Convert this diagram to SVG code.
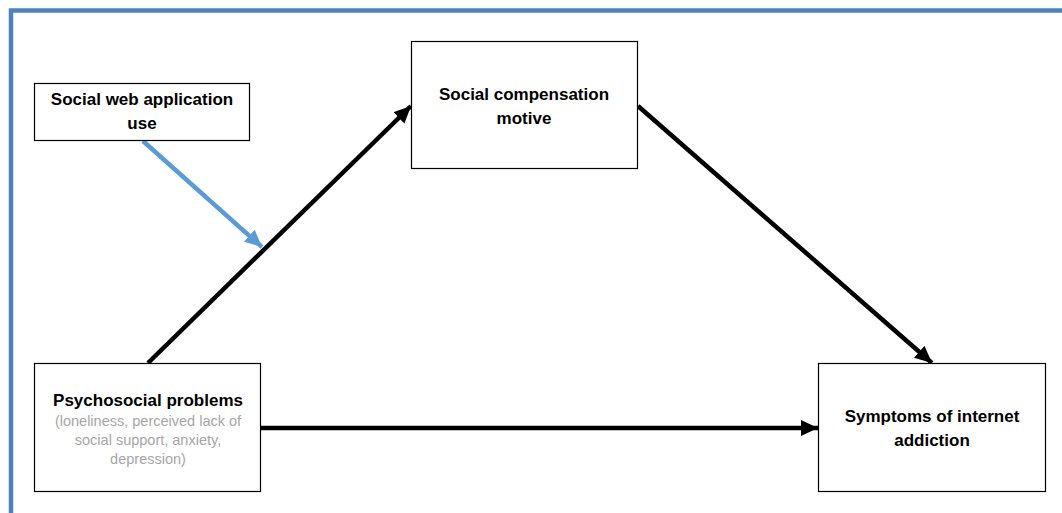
<svg xmlns="http://www.w3.org/2000/svg" width="1062" height="513" viewBox="0 0 1062 513">
  <style>
    .box { fill: #ffffff; stroke: #000000; stroke-width: 1.2; }
    .title { font-family: "Liberation Sans", Arial, sans-serif; font-weight: bold; font-size: 17px; fill: #000000; text-anchor: middle; }
    .sub { font-family: "Liberation Sans", Arial, sans-serif; font-size: 14.5px; fill: #a6a6a6; text-anchor: middle; }
    .link { fill: none; stroke: #000000; stroke-width: 4.5; }
    .mod { fill: none; stroke: #5b9bd5; stroke-width: 4.5; }
  </style>
  <defs>
    <marker id="headBlack" markerUnits="userSpaceOnUse" markerWidth="18" markerHeight="16" refX="17" refY="8" orient="auto">
      <path d="M0,0 L17,8 L0,16 Z" fill="#000000"/>
    </marker>
    <marker id="headBlue" markerUnits="userSpaceOnUse" markerWidth="18" markerHeight="16" refX="17" refY="8" orient="auto">
      <path d="M0,0 L17,8 L0,16 Z" fill="#5b9bd5"/>
    </marker>
  </defs>

  <rect width="1062" height="513" fill="#ffffff"/>
  <!-- outer frame -->
  <rect x="11" y="10.5" width="1060" height="510" fill="none" stroke="#4f81bd" stroke-width="4.5"/>

  <g id="connectors">
    <line class="link" x1="148" y1="363" x2="411" y2="106" marker-end="url(#headBlack)"/>
    <line class="link" x1="638" y1="106" x2="932" y2="363" marker-end="url(#headBlack)"/>
    <line class="link" x1="261" y1="428" x2="818" y2="428" marker-end="url(#headBlack)"/>
    <line class="mod" x1="143" y1="141" x2="262" y2="247" marker-end="url(#headBlue)"/>
  </g>

  <g id="node-social-web">
    <rect class="box" x="34.5" y="83.5" width="215" height="57"/>
    <text class="title" x="142" y="105">Social web application</text>
    <text class="title" x="142" y="129">use</text>
  </g>

  <g id="node-compensation">
    <rect class="box" x="411.5" y="41.5" width="226" height="127"/>
    <text class="title" x="524" y="100">Social compensation</text>
    <text class="title" x="524" y="124">motive</text>
  </g>

  <g id="node-psychosocial">
    <rect class="box" x="34.5" y="363.5" width="226" height="128"/>
    <text class="title" x="148" y="406">Psychosocial problems</text>
    <text class="sub" x="148" y="426">(loneliness, perceived lack of</text>
    <text class="sub" x="148" y="445">social support, anxiety,</text>
    <text class="sub" x="148" y="464">depression)</text>
  </g>

  <g id="node-symptoms">
    <rect class="box" x="818.5" y="363.5" width="227" height="128"/>
    <text class="title" x="932" y="422">Symptoms of internet</text>
    <text class="title" x="932" y="446">addiction</text>
  </g>
</svg>
